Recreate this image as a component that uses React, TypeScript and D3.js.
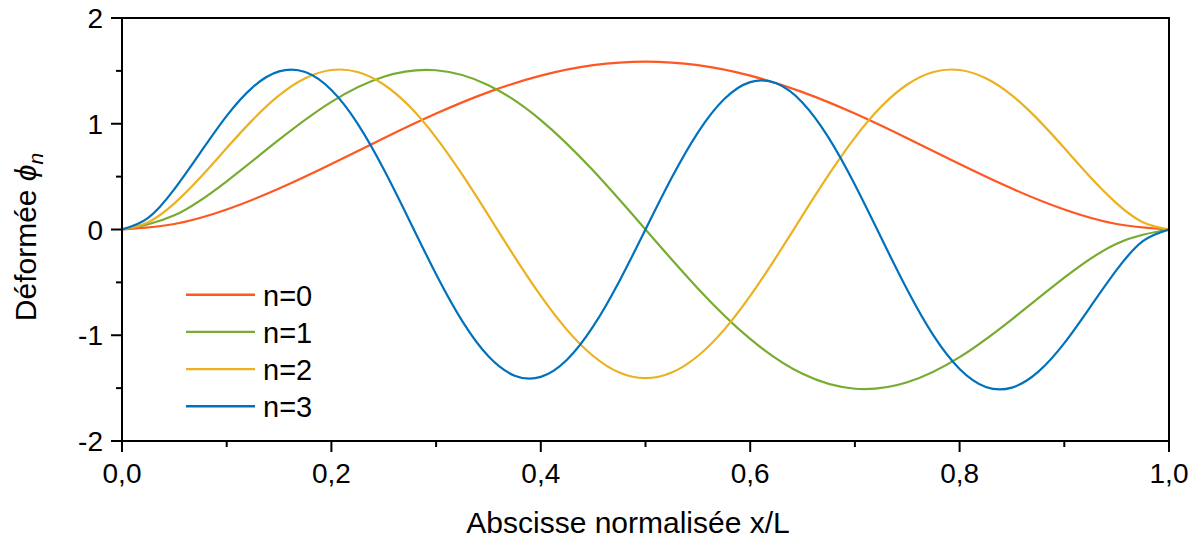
import React from "react";
import * as d3 from "d3";

const xCoarse = [0, 0.05, 0.1, 0.15, 0.2, 0.25, 0.3, 0.35, 0.4, 0.45, 0.5, 0.55, 0.6, 0.65, 0.7, 0.75, 0.8, 0.85, 0.9, 0.95, 1];
const xFine = [0, 0.025, 0.05, 0.075, 0.1, 0.125, 0.15, 0.175, 0.2, 0.225, 0.25, 0.275, 0.3, 0.325, 0.35, 0.375, 0.4, 0.425, 0.45, 0.475, 0.5,
  0.525, 0.55, 0.575, 0.6, 0.625, 0.65, 0.675, 0.7, 0.725, 0.75, 0.775, 0.8, 0.825, 0.85, 0.875, 0.9, 0.925, 0.95, 0.975, 1];

const phi0 = [0, 0.052, 0.189, 0.387, 0.619, 0.863, 1.096, 1.299, 1.455, 1.554, 1.588, 1.554, 1.455, 1.299, 1.096, 0.863, 0.619, 0.387, 0.189, 0.052, 0];
const phi1 = [0, 0.134, 0.456, 0.849, 1.207, 1.445, 1.506, 1.365, 1.035, 0.557, 0, -0.557, -1.035, -1.365, -1.506, -1.445, -1.207, -0.849, -0.456, -0.134, 0];
const phi2 = [0, 0.069, 0.247, 0.494, 0.770, 1.039, 1.268, 1.430, 1.508, 1.489, 1.371, 1.160, 0.869, 0.518, 0.133, -0.259, -0.628, -0.949, -1.196, -1.353, -1.406,
  -1.353, -1.196, -0.949, -0.628, -0.259, 0.133, 0.518, 0.869, 1.160, 1.371, 1.489, 1.508, 1.430, 1.268, 1.039, 0.770, 0.494, 0.247, 0.069, 0];
const phi3 = [0, 0.110, 0.382, 0.730, 1.075, 1.347, 1.495, 1.489, 1.319, 1.002, 0.570, 0.076, -0.423, -0.866, -1.199, -1.382, -1.394, -1.232, -0.917, -0.489, 0,
  0.489, 0.917, 1.232, 1.394, 1.382, 1.199, 0.866, 0.423, -0.076, -0.570, -1.002, -1.319, -1.489, -1.495, -1.347, -1.075, -0.730, -0.382, -0.110, 0];

const seriesNames = ["n=0", "n=1", "n=2", "n=3"];
const seriesColors = ["#FF5722", "#77AC30", "#EDB120", "#0072BD"];

const xMajorTicks = [0, 0.2, 0.4, 0.6, 0.8, 1.0];
const xMinorTicks = [0.1, 0.3, 0.5, 0.7, 0.9];
const yMajorTicks = [-2, -1, 0, 1, 2];
const yMinorTicks = [-1.5, -0.5, 0.5, 1.5];

const FONT = "'Liberation Sans', Arial, Helvetica, sans-serif";

export default function App() {
  const W = 1202, H = 541;
  const left = 122, right = 1169, top = 18, bottom = 441;
  const x = d3.scaleLinear().domain([0, 1]).range([left, right]);
  const y = d3.scaleLinear().domain([-2, 2]).range([bottom, top]);

  const series = [
    { xs: xCoarse, ys: phi0 },
    { xs: xCoarse, ys: phi1 },
    { xs: xFine, ys: phi2 },
    { xs: xFine, ys: phi3 },
  ];

  const line = d3
    .line<[number, number]>()
    .x((d) => x(d[0]))
    .y((d) => y(d[1]))
    .curve(d3.curveNatural);

  const fmtX = (v: number) => v.toFixed(1).replace(".", ",");

  return (
    <svg
      width={W}
      height={H}
      style={{ position: "absolute", left: 0, top: 0, background: "#fff" }}
      fontFamily={FONT}
    >
      <rect x={0} y={0} width={W} height={H} fill="#fff" />
      <defs>
        <clipPath id="plotclip">
          <rect x={left} y={top} width={right - left} height={bottom - top} />
        </clipPath>
      </defs>

      {/* curves */}
      <g clipPath="url(#plotclip)">
        {series.map((s, i) => (
          <path
            key={i}
            d={line(s.xs.map((xv, j) => [xv, s.ys[j]] as [number, number])) || ""}
            fill="none"
            stroke={seriesColors[i]}
            strokeWidth={2.2}
            strokeLinejoin="round"
          />
        ))}
      </g>

      {/* frame */}
      <rect x={left} y={top} width={right - left} height={bottom - top} fill="none" stroke="#000" strokeWidth={2} />

      {/* x ticks */}
      {xMajorTicks.map((t) => (
        <g key={"xM" + t}>
          <line x1={x(t)} x2={x(t)} y1={bottom} y2={bottom + 11} stroke="#000" strokeWidth={2} />
          <text x={x(t)} y={483} textAnchor="middle" fontSize={28}>
            {fmtX(t)}
          </text>
        </g>
      ))}
      {xMinorTicks.map((t) => (
        <line key={"xm" + t} x1={x(t)} x2={x(t)} y1={bottom} y2={bottom + 6} stroke="#000" strokeWidth={2} />
      ))}

      {/* y ticks */}
      {yMajorTicks.map((t) => (
        <g key={"yM" + t}>
          <line x1={left - 11} x2={left} y1={y(t)} y2={y(t)} stroke="#000" strokeWidth={2} />
          <text x={103} y={y(t) + 10} textAnchor="end" fontSize={28}>
            {String(t)}
          </text>
        </g>
      ))}
      {yMinorTicks.map((t) => (
        <line key={"ym" + t} x1={left - 6} x2={left} y1={y(t)} y2={y(t)} stroke="#000" strokeWidth={2} />
      ))}

      {/* axis titles */}
      <text x={628} y={533} textAnchor="middle" fontSize={30}>
        Abscisse normalisée x/L
      </text>
      <text transform="translate(36,237) rotate(-90)" textAnchor="middle" fontSize={30}>
        Déformée{" "}
        <tspan fontStyle="italic">ϕ</tspan>
        <tspan fontStyle="italic" fontSize={21} dy={7}>
          n
        </tspan>
      </text>

      {/* legend */}
      {seriesNames.map((name, i) => {
        const ly = 294.7 + i * 37.2;
        return (
          <g key={name}>
            <line x1={186} x2={255} y1={ly} y2={ly} stroke={seriesColors[i]} strokeWidth={2.4} />
            <text x={263} y={ly + 11} fontSize={29}>
              {name}
            </text>
          </g>
        );
      })}
    </svg>
  );
}
